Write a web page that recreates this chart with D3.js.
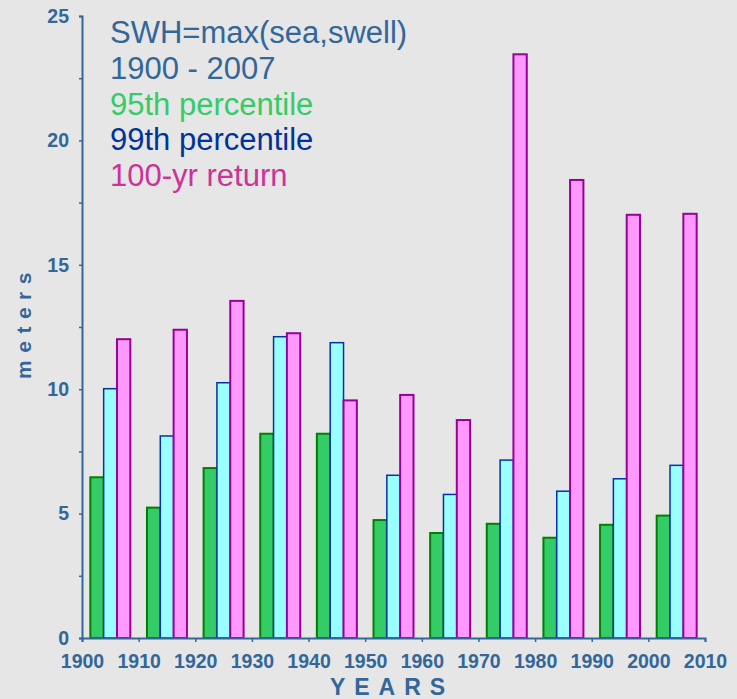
<!DOCTYPE html>
<html>
<head>
<meta charset="utf-8">
<script src="https://cdn.jsdelivr.net/npm/d3@7"></script>
<style>
  html, body { margin: 0; padding: 0; background: #e6e6e6; }
  svg { display: block; }
</style>
</head>
<body>
<script>
// Decade start years (each group of bars spans one decade)
const decades = [1900, 1910, 1920, 1930, 1940, 1950, 1960, 1970, 1980, 1990, 2000];

// Significant wave height, meters
const p95 = [6.46, 5.24, 6.83, 8.21, 8.21, 4.74, 4.22, 4.59, 4.03, 4.55, 4.92];
const p99 = [10.02, 8.12, 10.26, 12.11, 11.87, 6.54, 5.77, 7.15, 5.90, 6.40, 6.94];
const return100 = [12.01, 12.39, 13.55, 12.25, 9.55, 9.77, 8.76, 23.46, 18.41, 17.01, 17.05];

const seriesNames = ["95th percentile", "99th percentile", "100-yr return"];
const yTicks = [0, 2.5, 5, 7.5, 10, 12.5, 15, 17.5, 20, 22.5, 25];
const xTicks = [1900, 1910, 1920, 1930, 1940, 1950, 1960, 1970, 1980, 1990, 2000, 2010];
const legendLines = ["SWH=max(sea,swell)", "1900 - 2007", "95th percentile", "99th percentile", "100-yr return"];

const W = 737, H = 699;
const axisColor = "#336699";
const fills = ["#33cc66", "#99ffff", "#ff99ff"];
const strokes = ["#008000", "#0033aa", "#990099"];
const strokeW = [2, 1.5, 2];
const legendColors = ["#336699", "#336699", "#33cc66", "#003399", "#cc3399"];

const svg = d3.select("body").append("svg")
  .attr("width", W).attr("height", H);

svg.append("rect").attr("width", W).attr("height", H).attr("fill", "#e6e6e6");

const x = d3.scaleLinear().domain([1900, 2010]).range([82, 705]);
const y = d3.scaleLinear().domain([0, 25]).range([638, 16]);

// Bars in each decade are centred on the mid-decade year
const groupYears = 7.06;
const inner = d3.scaleBand().domain(d3.range(3))
  .range([0, x(1900 + groupYears) - x(1900)]).padding(0);

const series = [p95, p99, return100];

series.forEach((vals, si) => {
  svg.append("g").selectAll("rect")
    .data(vals.map((v, i) => ({ v, d: decades[i] })))
    .join("rect")
    .attr("x", d => x(d.d + 5 - groupYears / 2) + inner(si))
    .attr("y", d => y(d.v))
    .attr("width", inner.bandwidth())
    .attr("height", d => y(0) - y(d.v))
    .attr("fill", fills[si])
    .attr("stroke", strokes[si])
    .attr("stroke-width", strokeW[si]);
});

// Y axis
const yAxis = svg.append("g")
  .attr("transform", `translate(${x(1900)},0)`)
  .call(d3.axisLeft(y).tickValues(yTicks).tickSize(3).tickPadding(10)
    .tickFormat(d => d % 5 === 0 ? d : ""));

// X axis
const xAxis = svg.append("g")
  .attr("transform", `translate(0,${y(0)})`)
  .call(d3.axisBottom(x).tickValues(xTicks).tickSize(4).tickPadding(12)
    .tickFormat(d3.format("d")));

[yAxis, xAxis].forEach(g => {
  g.select(".domain").attr("stroke", axisColor).attr("stroke-width", 2);
  g.selectAll(".tick line").attr("stroke", axisColor).attr("stroke-width", 1.5);
  g.selectAll(".tick text")
    .attr("fill", axisColor)
    .style("font-family", "'Liberation Sans', Arial, sans-serif")
    .style("font-weight", "bold")
    .style("font-size", "19.5px");
});

// Axis titles
svg.append("text")
  .attr("x", 392).attr("y", 695)
  .attr("text-anchor", "middle")
  .attr("fill", axisColor)
  .style("font-family", "'Liberation Sans', Arial, sans-serif")
  .style("font-weight", "bold")
  .style("font-size", "23px")
  .style("letter-spacing", "9px")
  .text("YEARS");

svg.append("text")
  .attr("transform", "translate(31,322) rotate(-90)")
  .attr("text-anchor", "middle")
  .attr("fill", axisColor)
  .style("font-family", "'Liberation Sans', Arial, sans-serif")
  .style("font-weight", "bold")
  .style("font-size", "21px")
  .style("letter-spacing", "7.5px")
  .text("meters");

// Annotation block
svg.append("g").selectAll("text")
  .data(legendLines)
  .join("text")
  .attr("x", 110)
  .attr("y", (d, i) => 43 + i * 35.8)
  .attr("fill", (d, i) => legendColors[i])
  .style("font-family", "'Liberation Sans', Arial, sans-serif")
  .style("font-size", "31px")
  .text(d => d);
</script>
</body>
</html>
